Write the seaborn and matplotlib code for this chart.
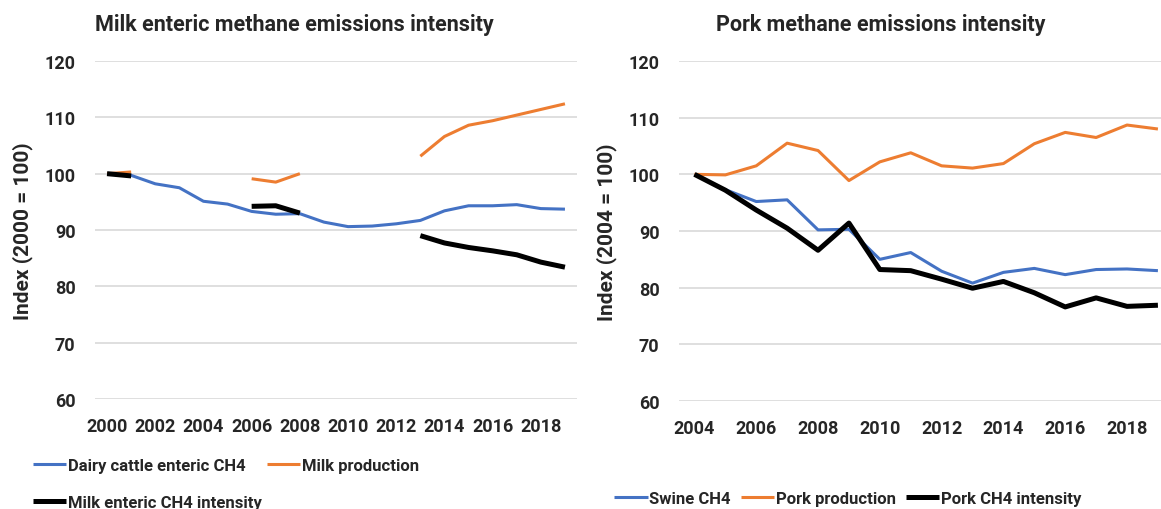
import numpy as np
import pandas as pd
import seaborn as sns
import matplotlib.pyplot as plt

# milk panel (NaN = year not shown)
milk_years = list(range(2000, 2020))
dairy_ch4 = [100, 99.7, 98.2, 97.5, 95.1, 94.6, 93.3, 92.8, 92.9, 91.4,
             90.6, 90.7, 91.1, 91.7, 93.4, 94.3, 94.3, 94.5, 93.8, 93.7]
milk_prod = [100, 100.3, np.nan, np.nan, np.nan, np.nan, 99.1, 98.5, 100.0, np.nan,
             np.nan, np.nan, np.nan, 103.1, 106.6, 108.6, 109.4, 110.4, 111.4, 112.4]
milk_int = [100, 99.6, np.nan, np.nan, np.nan, np.nan, 94.2, 94.3, 93.0, np.nan,
            np.nan, np.nan, np.nan, 89.0, 87.7, 86.9, 86.3, 85.6, 84.3, 83.4]

# pork panel
pork_years = list(range(2004, 2020))
swine_ch4 = [100, 97.3, 95.2, 95.5, 90.2, 90.3, 85.0, 86.2, 82.9, 80.8,
             82.7, 83.4, 82.3, 83.2, 83.3, 83.0]
pork_prod = [100, 99.9, 101.5, 105.5, 104.2, 98.9, 102.2, 103.8, 101.5, 101.1,
             101.9, 105.4, 107.4, 106.5, 108.7, 108.0]
pork_int = [100, 97.2, 93.7, 90.5, 86.6, 91.4, 83.2, 83.0, 81.5, 79.9,
            81.1, 79.1, 76.6, 78.2, 76.7, 76.9]

BLUE, ORANGE, BLACK = '#4472C4', '#ED7D31', '#000000'

sns.set_style('white')
plt.rcParams['font.family'] = ['Roboto', 'DejaVu Sans']
plt.rcParams['font.weight'] = 'bold'

fig = plt.figure(figsize=(11.61, 5.10), dpi=100)
ax1 = fig.add_axes([95 / 1161, 1 - 400 / 510, 482 / 1161, 338 / 510])
ax2 = fig.add_axes([679 / 1161, 1 - 402 / 510, 482 / 1161, 340 / 510])


def draw(ax, years, series, xlim, ylabel, title, title_x):
    for label, vals, color, lw in series:
        df = pd.DataFrame({'year': years, 'val': vals})
        # split at gaps so that missing years are left blank
        seg = df['val'].isna().cumsum()
        first = True
        for _, part in df.dropna().groupby(seg[df['val'].notna()]):
            sns.lineplot(data=part, x='year', y='val', ax=ax, color=color, lw=lw,
                         estimator=None, label=label if first else '_nolegend_',
                         legend=False, solid_capstyle='butt')
            first = False
    ax.set_ylim(60, 120)
    ax.set_yticks(range(60, 121, 10))
    ax.set_xlim(*xlim)
    ax.yaxis.grid(True, color='#D9D9D9', lw=1.2)
    for s in ax.spines.values():
        s.set_visible(False)
    ax.tick_params(axis='y', length=0, labelsize=13, pad=14)
    ax.tick_params(axis='x', length=0, labelsize=13, pad=13)
    for t in ax.get_xticklabels() + ax.get_yticklabels():
        t.set_fontweight('bold')
    ax.set_xlabel('')
    ax.set_ylabel(ylabel, fontsize=15, fontweight='bold', labelpad=8)
    ax.text(title_x, 1.11, title, transform=ax.transAxes, ha='center', va='center',
            fontsize=15.5, fontweight='bold')


draw(ax1, milk_years,
     [('Dairy cattle enteric CH4', dairy_ch4, BLUE, 2.2),
      ('Milk production', milk_prod, ORANGE, 2.2),
      ('Milk enteric CH4 intensity', milk_int, BLACK, 3.6)],
     (1999.5, 2019.5), 'Index (2000 = 100)', 'Milk enteric methane emissions intensity',
     (294 - 95) / 482)
ax1.set_xticks(range(2000, 2019, 2))

draw(ax2, pork_years,
     [('Swine CH4', swine_ch4, BLUE, 2.2),
      ('Pork production', pork_prod, ORANGE, 2.2),
      ('Pork CH4 intensity', pork_int, BLACK, 3.6)],
     (2003.5, 2019.1), 'Index (2004 = 100)', 'Pork methane emissions intensity',
     (881 - 679) / 482)
ax2.set_xticks(range(2004, 2019, 2))

h, l = ax1.get_legend_handles_labels()
ax1.legend([h[0], h[2], h[1]], [l[0], l[2], l[1]], ncol=2, frameon=False,
           loc='upper left', bbox_to_anchor=(-0.16, -0.13),
           prop={'size': 12, 'weight': 'bold'}, handlelength=2.0,
           handletextpad=0.1, columnspacing=0.3, labelspacing=1.3)
h, l = ax2.get_legend_handles_labels()
ax2.legend(h, l, ncol=3, frameon=False,
           loc='upper left', bbox_to_anchor=(-0.165, -0.22),
           prop={'size': 12, 'weight': 'bold'}, handlelength=2.0,
           handletextpad=0.1, columnspacing=0.6)

fig.savefig('out.png', dpi=100)
